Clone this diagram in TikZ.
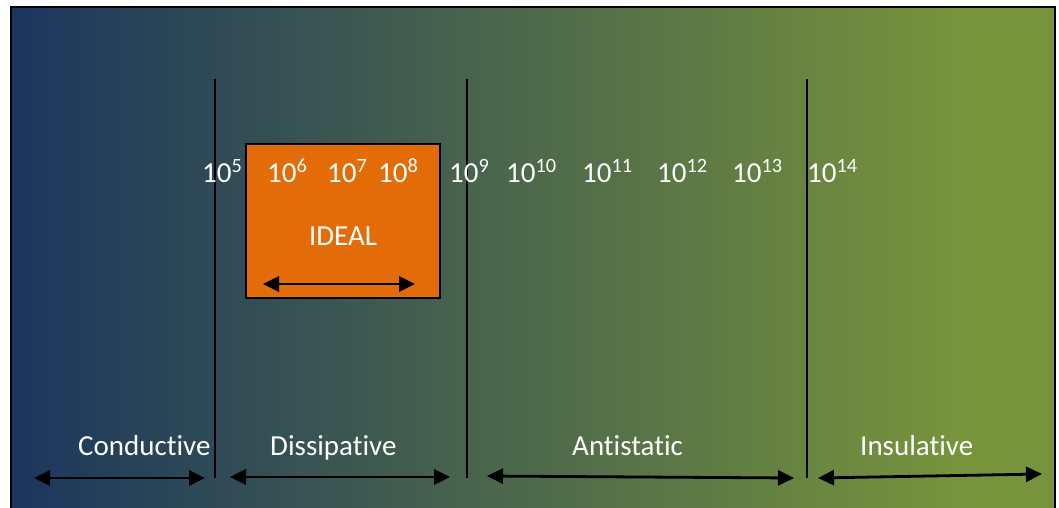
\documentclass[tikz,border=0pt]{standalone}
\usepackage{fontspec}
\setmainfont{Carlito}[Ligatures={NoCommon}]
\usetikzlibrary{arrows.meta}
\definecolor{navy}{RGB}{27,54,93}
\definecolor{olive}{RGB}{119,147,60}
\definecolor{idealor}{RGB}{227,108,9}
\pgfdeclarehorizontalshading{panelshade}{100bp}{color(0bp)=(navy); color(25bp)=(navy); color(70bp)=(olive); color(100bp)=(olive)}
\tikzset{
  lbl/.style={text=white, font=\fontsize{29}{34}\selectfont, inner sep=0pt, anchor=base west},
  vline/.style={draw=black, line width=1.6pt},
  dblarrow/.style={draw=black, line width=2.8pt, {Triangle[length=16pt,width=15pt]}-{Triangle[length=16pt,width=15pt]}},
}
\begin{document}
\begin{tikzpicture}[x=1pt,y=-1pt]
\useasboundingbox (0,0) rectangle (1059,508);
\clip (0,0) rectangle (1059,508);
% background panel
\shade[shading=panelshade] (11,7) rectangle (1055,515);
\draw[black, line width=2pt] (11,515) -- (11,7) -- (1055,7) -- (1055,515);
% vertical separators
\coordinate (v1t) at (215,79); \coordinate (v1b) at (215,478);
\coordinate (v2t) at (467,79); \coordinate (v2b) at (467,478);
\coordinate (v3t) at (807,79); \coordinate (v3b) at (807,478);
\draw[vline] (v1t) -- (v1b);
\draw[vline] (v2t) -- (v2b);
\draw[vline] (v3t) -- (v3b);
% ideal box
\node[draw=black, line width=1.6pt, fill=idealor, minimum width=194pt, minimum height=154pt, inner sep=0pt, anchor=north west] (ideal) at (245,143) {};
\node[lbl, anchor=center] (idealtxt) at (343,236) {IDEAL};
\coordinate (ia) at (263,284); \coordinate (ib) at (415,284);
\draw[dblarrow] (ia) -- (ib);
% exponents
\node[lbl] (n5) at (202,182) {10\textsuperscript{5}};
\node[lbl] (n6) at (267,182) {10\textsuperscript{6}};
\node[lbl] (n7) at (327,182) {10\textsuperscript{7}};
\node[lbl] (n8) at (378,182) {10\textsuperscript{8}};
\node[lbl] (n9) at (449,182) {10\textsuperscript{9}};
\node[lbl] (n10) at (506,182) {10\textsuperscript{10}};
\node[lbl] (n11) at (582,182) {10\textsuperscript{11}};
\node[lbl] (n12) at (657,182) {10\textsuperscript{12}};
\node[lbl] (n13) at (732,182) {10\textsuperscript{13}};
\node[lbl] (n14) at (807,182) {10\textsuperscript{14}};
% category labels
\node[lbl] (cond) at (78,455) {Conductive};
\node[lbl] (diss) at (270,455) {Dissipative};
\node[lbl] (anti) at (572,455) {Antistatic};
\node[lbl] (insu) at (860,455) {Insulative};
% range arrows
\coordinate (ca) at (34,478); \coordinate (cb) at (205,478);
\coordinate (da) at (230,477); \coordinate (db) at (450,477);
\coordinate (aa) at (487,476); \coordinate (ab) at (794,478);
\coordinate (sa) at (818,478); \coordinate (sb) at (1042,474);
\draw[dblarrow] (ca) -- (cb);
\draw[dblarrow] (da) -- (db);
\draw[dblarrow] (aa) -- (ab);
\draw[dblarrow] (sa) -- (sb);
\end{tikzpicture}
\end{document}
